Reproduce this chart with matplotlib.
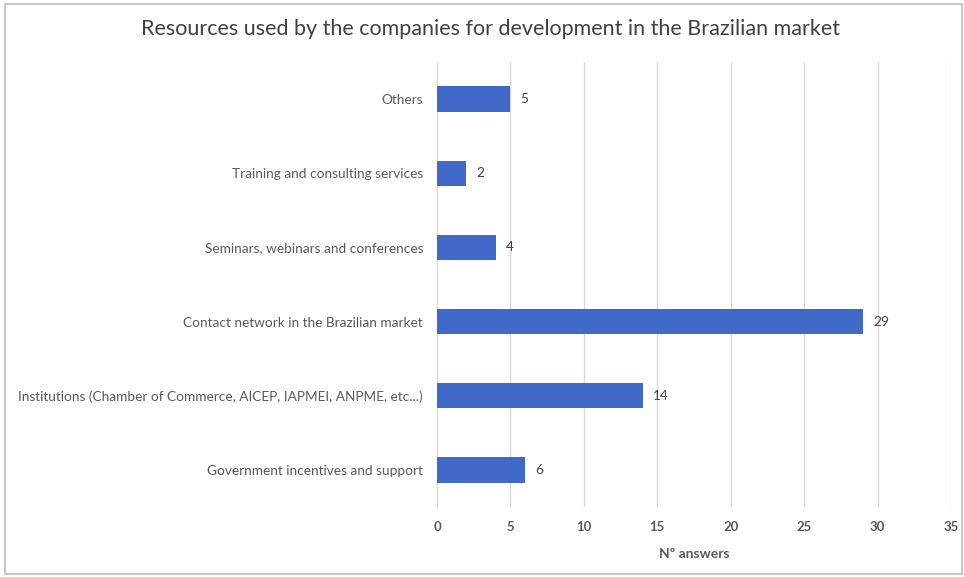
import matplotlib.pyplot as plt
from matplotlib.patches import Rectangle

# survey answers per resource
categories = ['Government incentives and support',
              'Institutions (Chamber of Commerce, AICEP, IAPMEI, ANPME, etc...)',
              'Contact network in the Brazilian market',
              'Seminars, webinars and conferences',
              'Training and consulting services',
              'Others']
answers = [6, 14, 29, 4, 2, 5]
xticks = [0, 5, 10, 15, 20, 25, 30, 35]

plt.rcParams['font.family'] = ['Lato', 'DejaVu Sans']

fig = plt.figure(figsize=(9.64, 5.77), dpi=100)
ax = fig.add_axes([437/964, 1 - 507/577, (951 - 437)/964, (507 - 62)/577])

ypos = list(range(len(categories)))
bars = ax.barh(ypos, answers, height=0.34, color='#4169C8', zorder=3)
for y, v in zip(ypos, answers):
    ax.text(v + 0.7, y, str(v), va='center', ha='left', fontsize=9.8,
            color='#404040')

ax.set_xlim(0, 35)
ax.set_ylim(-0.5, len(categories) - 0.5)
ax.set_xticks(xticks)
ax.set_xticklabels([str(t) for t in xticks], fontsize=9.5, color='#595959',
                   fontweight='bold')
ax.set_yticks(ypos)
ax.set_yticklabels(categories, fontsize=9.8, color='#595959')
ax.tick_params(axis='both', length=0)
ax.tick_params(axis='x', pad=10)
ax.tick_params(axis='y', pad=10)
ax.grid(axis='x', color='#d9d9d9', linewidth=1, zorder=0)
for s in ax.spines.values():
    s.set_visible(False)

ax.set_xlabel('Nº answers', fontsize=10, color='#595959', fontweight='bold',
              labelpad=11)

fig.text(491/964, 1 - 29/577,
         'Resources used by the companies for development in the Brazilian market',
         ha='center', va='center', fontsize=15.5, color='#404040')

# thin frame round the chart area
fig.patches.append(Rectangle((5/964, 3/577), 957/964, 570/577,
                             transform=fig.transFigure, fill=False,
                             edgecolor='#c8c8c8', linewidth=1.5))

fig.savefig('out.png', dpi=100)
